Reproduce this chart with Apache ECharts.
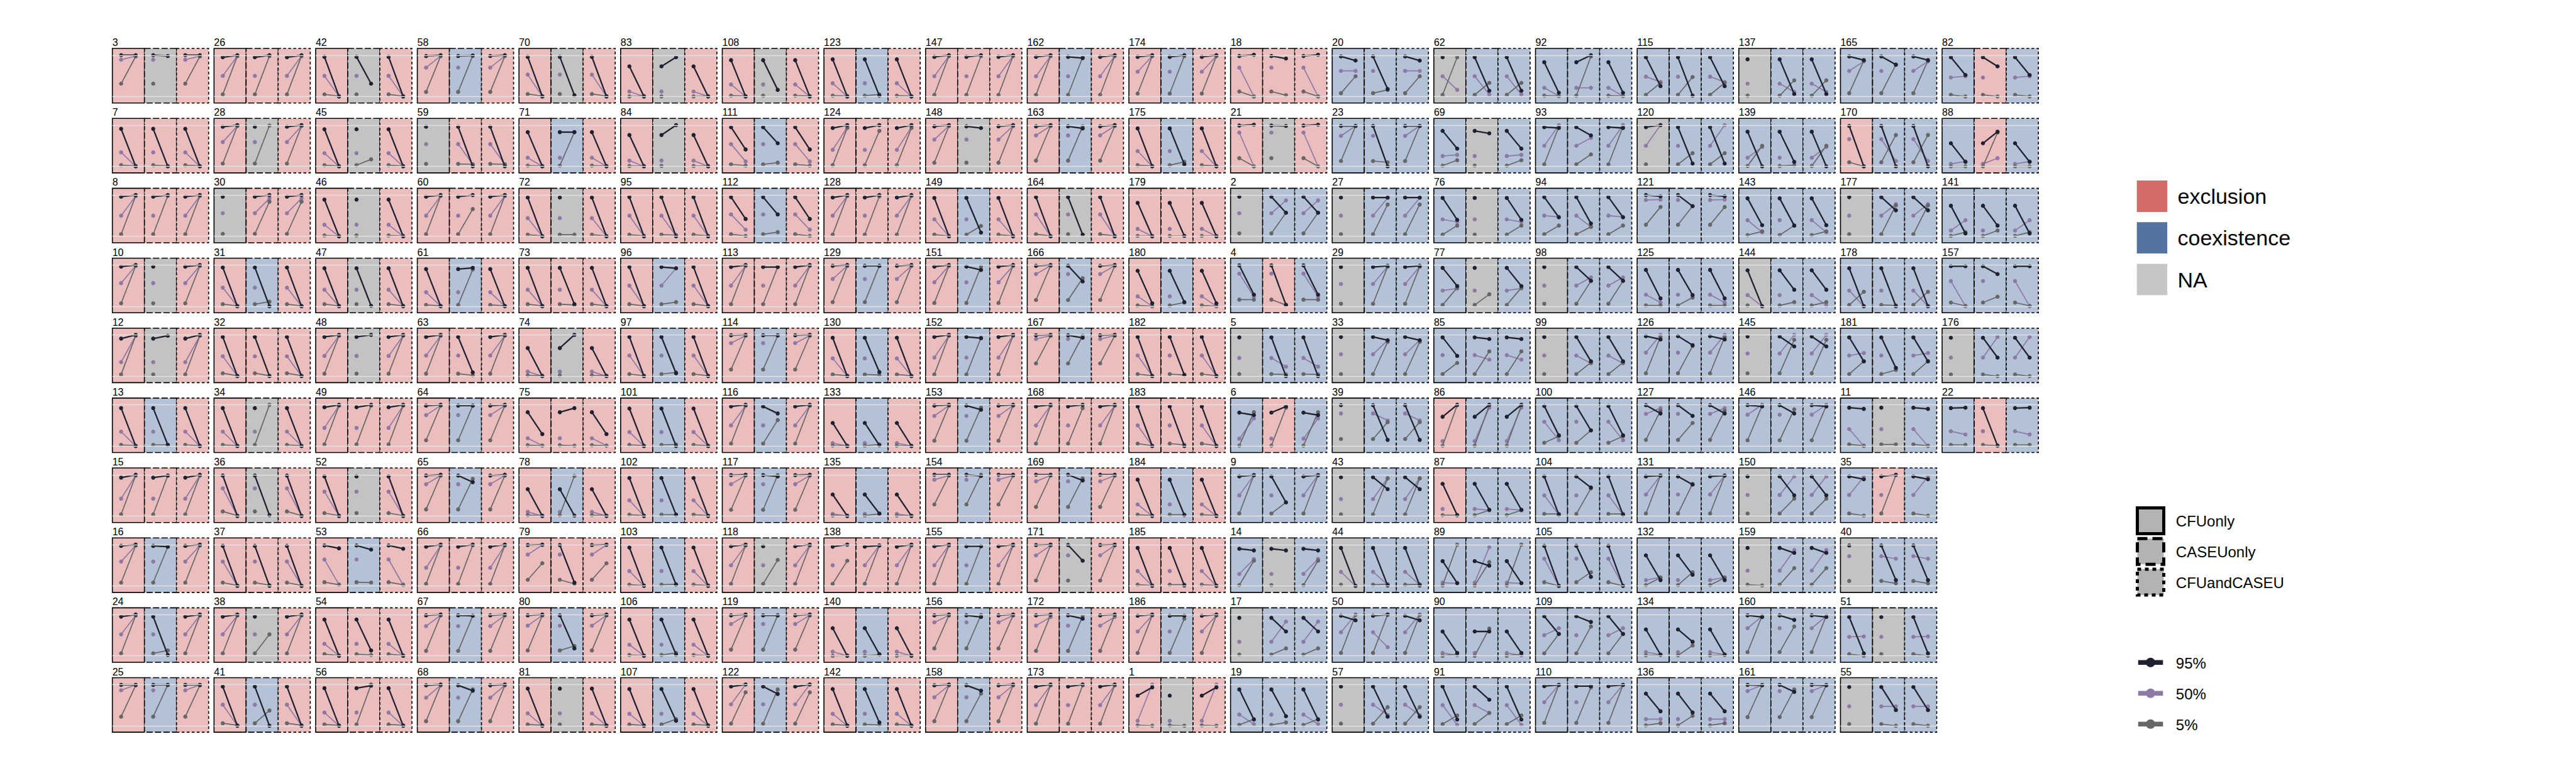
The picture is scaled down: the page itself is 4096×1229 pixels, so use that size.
<!DOCTYPE html>
<html>
<head>
<meta charset="utf-8">
<script src="https://cdn.jsdelivr.net/npm/echarts@6/dist/echarts.min.js"></script>
<style>html,body{margin:0;padding:0;background:#fff}#c{width:4096px;height:1229px}</style>
</head>
<body>
<div id="c"></div>
<script>
// ---------------- DATA ----------------
// group ids, in column-major order (10 per column)
const groupIds = [
  3,7,8,10,12,13,15,16,24,25,
  26,28,30,31,32,34,36,37,38,41,
  42,45,46,47,48,49,52,53,54,56,
  58,59,60,61,63,64,65,66,67,68,
  70,71,72,73,74,75,78,79,80,81,
  83,84,95,96,97,101,102,103,106,107,
  108,111,112,113,114,116,117,118,119,122,
  123,124,128,129,130,133,135,138,140,142,
  147,148,149,151,152,153,154,155,156,158,
  162,163,164,166,167,168,169,171,172,173,
  174,175,179,180,182,183,184,185,186,1,
  18,21,2,4,5,6,9,14,17,19,
  20,23,27,29,33,39,43,44,50,57,
  62,69,76,77,85,86,87,89,90,91,
  92,93,94,98,99,100,104,105,109,110,
  115,120,121,125,126,127,131,132,134,136,
  137,139,143,144,145,146,150,159,160,161,
  165,170,177,178,181,11,35,40,51,55,
  82,88,141,157,176,22
];

// percentile order inside every triple: [95%, 50%, 5%]
const percentiles = ['95%', '50%', '5%'];
const panelTypes = ['CFUonly', 'CASEUonly', 'CFUandCASEU'];
const outcomeLabels = ['exclusion', 'coexistence', 'NA'];

// starting values (x = 1), shared by the three panels of a group
const startVals = [
  [1.0,0.89,0.31],[0.91,0.34,0.03],[0.96,0.5,0.05],[0.96,0.56,0.07],[0.91,0.34,0.04],[0.92,0.35,0.03],[0.93,0.42,0.04],[0.97,0.59,0.08],[0.95,0.52,0.06],[0.99,0.86,0.22],
  [0.95,0.5,0.05],[0.96,0.59,0.07],[0.96,0.56,0.06],[0.94,0.45,0.05],[0.95,0.48,0.07],[0.92,0.35,0.03],[0.98,0.67,0.11],[0.97,0.59,0.08],[0.95,0.52,0.06],[0.95,0.51,0.06],
  [0.96,0.5,0.05],[0.9,0.32,0.03],[0.89,0.28,0.02],[0.92,0.4,0.05],[0.95,0.49,0.06],[0.94,0.44,0.04],[0.96,0.59,0.07],[0.98,0.64,0.09],[0.88,0.29,0.04],[0.91,0.32,0.03],
  [0.98,0.7,0.11],[0.96,0.54,0.06],[0.96,0.5,0.05],[0.9,0.34,0.03],[0.95,0.5,0.06],[0.98,0.75,0.14],[0.98,0.77,0.16],[0.95,0.44,0.05],[0.98,0.72,0.12],[0.98,0.68,0.11],
  [0.96,0.53,0.06],[0.83,0.21,0.02],[0.94,0.44,0.04],[0.93,0.4,0.05],[0.68,0.11,0.02],[0.82,0.19,0.02],[0.65,0.1,0.02],[0.99,0.76,0.15],[0.98,0.73,0.13],[0.9,0.3,0.03],
  [0.73,0.12,0.0],[0.76,0.14,0.01],[0.95,0.5,0.04],[0.95,0.5,0.05],[0.95,0.5,0.05],[0.91,0.34,0.03],[0.92,0.38,0.03],[0.93,0.36,0.03],[0.88,0.27,0.02],[0.89,0.29,0.03],
  [0.88,0.29,0.02],[0.95,0.54,0.05],[0.95,0.53,0.05],[0.95,0.5,0.05],[0.99,0.8,0.16],[0.96,0.5,0.06],[0.99,0.77,0.15],[0.96,0.5,0.05],[0.98,0.77,0.15],[0.95,0.52,0.05],
  [0.9,0.32,0.02],[0.93,0.4,0.03],[0.94,0.5,0.04],[0.98,0.66,0.1],[0.93,0.43,0.04],[0.56,0.07,0.01],[0.52,0.05,0.01],[0.95,0.5,0.05],[0.67,0.1,0.0],[0.89,0.29,0.03],
  [0.96,0.49,0.04],[0.97,0.65,0.09],[0.93,0.41,0.04],[0.96,0.58,0.08],[0.95,0.45,0.04],[0.98,0.73,0.13],[1.0,0.88,0.28],[0.96,0.5,0.05],[0.98,0.81,0.18],[0.98,0.69,0.11],
  [0.96,0.49,0.04],[0.97,0.75,0.14],[0.95,0.53,0.05],[0.98,0.78,0.15],[0.99,0.9,0.31],[0.96,0.5,0.06],[1.0,0.84,0.22],[0.99,0.74,0.13],[0.98,0.73,0.12],[0.95,0.5,0.05],
  [0.96,0.6,0.07],[0.92,0.37,0.03],[0.81,0.18,0.01],[0.86,0.24,0.02],[0.95,0.5,0.05],[0.96,0.5,0.06],[0.88,0.28,0.03],[0.92,0.36,0.03],[0.97,0.59,0.07],[0.73,0.12,0.01],
  [0.98,0.7,0.12],[0.99,0.82,0.2],[0.96,0.56,0.07],[0.99,0.79,0.16],[0.94,0.44,0.05],[0.81,0.18,0.01],[0.96,0.5,0.06],[0.9,0.29,0.02],[0.92,0.34,0.03],[0.88,0.27,0.02],
  [0.97,0.62,0.08],[0.98,0.74,0.13],[0.94,0.5,0.05],[0.95,0.54,0.06],[0.95,0.53,0.05],[0.99,0.79,0.17],[0.94,0.41,0.04],[0.92,0.34,0.03],[0.97,0.57,0.07],[0.95,0.51,0.05],
  [0.95,0.49,0.04],[0.86,0.25,0.02],[0.93,0.41,0.04],[0.93,0.38,0.03],[0.94,0.51,0.05],[0.71,0.12,0.01],[0.78,0.17,0.02],[0.6,0.08,0.01],[0.59,0.07,0.0],[0.95,0.5,0.04],
  [0.83,0.21,0.02],[0.95,0.5,0.05],[0.95,0.5,0.05],[0.95,0.5,0.06],[0.95,0.5,0.05],[0.97,0.59,0.08],[0.96,0.5,0.05],[0.97,0.66,0.09],[0.96,0.5,0.06],[0.96,0.57,0.07],
  [0.95,0.48,0.04],[0.95,0.5,0.05],[1.0,0.88,0.28],[0.88,0.28,0.02],[0.97,0.57,0.07],[0.99,0.78,0.15],[0.96,0.52,0.06],[0.74,0.14,0.02],[0.64,0.09,0.01],[0.78,0.16,0.01],
  [0.9,0.31,0.02],[0.84,0.21,0.01],[0.92,0.39,0.03],[0.87,0.27,0.02],[0.96,0.55,0.07],[0.99,0.76,0.14],[0.96,0.51,0.06],[0.92,0.37,0.03],[0.98,0.67,0.09],[0.99,0.84,0.21],
  [0.97,0.62,0.08],[0.98,0.66,0.1],[0.95,0.5,0.05],[0.92,0.38,0.03],[0.94,0.5,0.05],[0.93,0.41,0.04],[0.96,0.51,0.06],[0.98,0.72,0.12],[0.94,0.46,0.04],[0.94,0.47,0.04],
  [0.95,0.46,0.04],[0.56,0.06,0.0],[0.74,0.14,0.01],[0.97,0.61,0.09],[0.93,0.45,0.04],[0.92,0.36,0.03]
];

// outcome per panel: E = exclusion, C = coexistence, N = NA  (order CFUonly, CASEUonly, CFUandCASEU)
const outcomes = [
  'ENE','EEE','EEE','ENE','ENE','ECE','EEE','ECE','ECE','ECE',
  'EEE','ENE','NEE','ECE','EEE','ENE','ENE','EEE','ENE','ECE',
  'ENE','ENE','ENE','ENE','ENE','EEE','ENE','ECE','EEE','EEE',
  'ECE','NEE','EEE','ECE','EEE','ECE','ECE','EEE','ECE','ECE',
  'ENE','ECE','ENE','EEE','ENE','EEE','ECE','EEE','ECE','ENE',
  'ENE','ENE','EEE','ECE','ECE','ECE','ECE','ECE','ECE','ECE',
  'ENE','ECE','ECE','EEE','ECE','ECE','ECE','ENE','ECE','ECE',
  'ECE','EEE','EEE','ECE','ECE','ECE','ECE','EEE','ECE','ECE',
  'EEE','ENE','ECE','ECE','ECE','ECE','ECE','ECE','ECE','ECE',
  'ECE','ECE','ENE','ECE','ECE','EEE','ECE','ENE','ECE','EEE',
  'ECE','ECE','EEE','ECE','EEE','EEE','ECE','EEE','ECE','ENE',
  'EEE','ENE','NCC','CEC','NCC','CEC','CCC','CNC','NCC','CCC',
  'CCC','CCC','NCC','NCC','NCC','NCC','NCC','NCC','CCC','NCC',
  'NCC','CNC','CNC','CNC','CCC','ECC','ECC','CCC','CCC','CCC',
  'CCC','CCC','CCC','NCC','NCC','CCC','CCC','CCC','CCC','CCC',
  'CCC','NCC','CCC','CCC','CCC','CCC','CCC','CCC','CCC','CCC',
  'NCC','CCC','CCC','NCC','NCC','CCC','NCC','NCC','CCC','CCC',
  'CCC','ECC','NCC','CCC','CCC','CNC','CEC','NCC','CNC','NCC',
  'CEC','CEC','CCC','CCC','NCC','CEC'
];

// end values (x = 2) for CFUonly panels
const endCFU = [
  [1,0.98,0.97],[0,0,0.01],[1,0.98,0.98],[1,0.98,0.98],[1,0.98,0.98],[0,0,0.01],[1,0.98,0.98],[1,0.98,0.98],[1,0.98,0.98],[0.99,0.99,0.98],
  [1,0.98,0.98],[1,0.98,0.98],[null,null,null],[0,0,0.01],[0,0,0.01],[0,0,0.01],[0,0,0.01],[0,0,0.01],[1,0.98,0.98],[0,0,0.01],
  [0,0,0.01],[0,0,0.01],[0,0,0.01],[0,0,0.01],[1,0.98,0.98],[1,0.98,0.98],[0,0,0.01],[0.91,0.03,0.03],[0,0,0.01],[0,0,0.01],
  [1,0.98,0.98],[null,null,null],[1,0.98,0.98],[0,0,0.01],[1,0.98,0.98],[1,0.98,0.98],[1,0.98,0.98],[1,0.98,0.98],[1,0.98,0.98],[1,0.98,0.98],
  [0,0,0.01],[0,0,0.01],[0,0,0.01],[0,0,0.01],[0,0,0.01],[0.29,0.01,0.01],[0,0,0.01],[1,0.99,0.55],[1,0.98,0.98],[0,0,0.01],
  [0,0,0.01],[0,0,0.01],[0,0,0.01],[0,0,0.01],[0,0,0.01],[0,0,0.01],[0,0,0.01],[0,0,0.01],[0,0,0.01],[0,0,0.01],
  [0,0,0.01],[0.41,0.12,0.02],[0.42,0.16,0.01],[1,0.98,0.98],[1,0.98,0.98],[1,0.98,0.98],[1,0.98,0.98],[1,0.98,0.98],[1,0.98,0.98],[1,1,0.81],
  [0,0,0.01],[1,0.95,0.93],[1,0.98,0.98],[1,0.98,0.98],[0,0,0.01],[0,0,0.01],[0,0,0.01],[1,null,0.61],[0,0,0.01],[0,0,0.01],
  [1,0.98,0.98],[1,0.98,0.98],[0,0,0.01],[1,0.98,0.98],[1,0.98,0.98],[1,0.98,0.98],[1,0.98,0.98],[1,0.98,0.98],[1,0.98,0.98],[1,0.98,0.98],
  [1,0.98,0.98],[1,0.98,0.98],[0,0,0.01],[1,0.98,0.98],[1,0.98,0.98],[1,0.98,0.98],[1,0.98,0.98],[1,0.98,0.98],[1,0.94,0.99],[1,0.98,0.98],
  [1,0.98,0.98],[0,0,0.01],[0,0,0.01],[0.07,0,0],[0,0,0.01],[0,0,0.01],[0,0,0.01],[0,0,0.01],[1,0.98,0.98],[0.93,1,0],
  [1.01,0,0],[1.01,0,0],[null,null,null],[0.28,0.23,0.16],[null,null,null],[0.75,0.67,0.82],[0.99,0.99,0.99],[0.86,0.65,0.61],[null,null,null],[0.15,0.04,0.16],
  [0.87,0.62,0.49],[0.98,0.98,0.98],[null,null,null],[null,null,null],[null,null,null],[null,null,null],[null,null,null],[0,0,null],[0.86,1,0.99],[null,null,null],
  [null,0.16,0.95],[0.43,0.28,0.15],[0.4,0.35,0.26],[0.49,0.43,0.45],[0.49,null,0.32],[1,null,0.99],[0.02,null,0.02],[0.07,0.06,1],[0.07,0.01,0.04],[0.15,0.02,0.25],
  [0.09,0.01,0.01],[0.93,1,0.96],[0.46,0.47,0.26],[null,null,null],[null,null,null],[0.26,0.14,0.24],[0.03,0.03,0.05],[0,0,0],[0.53,0.67,0.53],[0.99,0.99,0.99],
  [0.25,0.35,0.33],[1,1,null],[0.97,0.89,0.71],[0.19,0.09,0.02],[0.89,1,0.95],[0.79,0.92,0.86],[0.98,0.98,0.98],[0.14,0.21,0.2],[0.03,0.03,0.02],[0.35,0.16,0.06],
  [null,null,null],[0,0.47,0.5],[0.27,0.1,0.12],[0,0,null],[null,null,null],[0.96,1,0.98],[null,null,null],[null,null,0.01],[0.94,0.96,0.97],[0.98,0.99,0.99],
  [0.88,0.85,0.87],[0,null,0],[null,null,null],[0,0,0.35],[0.36,0.56,0.36],[0.9,0,0.01],[0.89,0.95,0.01],[null,null,null],[0.06,0.47,0],[null,null,null],
  [0.52,0.49,0],[0.11,0.12,0],[0.07,0.39,0.1],[0.97,0,0.01],[null,null,null],[0.93,0.28,0.03]
];

// end values (x = 2) for CASEUonly panels
const endCASEU = [
  [0.98,null,null],[0,null,0.01],[1,null,0.98],[null,null,null],[0.98,null,null],[0.03,null,0.03],[0.98,null,0.98],[0.95,null,0.95],[0.02,null,0.13],[0.99,null,0.99],
  [1,null,0.98],[null,null,0.99],[1,0.92,0.84],[0,null,0.11],[0,null,0.01],[null,null,1],[0.02,null,null],[0,null,0.02],[null,null,0.52],[0,null,0.37],
  [0.31,null,null],[null,null,0.17],[null,null,null],[0.01,null,null],[1,null,null],[1,null,0.98],[null,null,null],[0.88,null,0.08],[0.13,null,0.02],[0.97,null,1],
  [0.99,null,0.99],[0,0.05,0.05],[1,null,0.66],[0.93,null,0.89],[0.09,null,0.02],[0.98,null,0.98],[0.82,null,0.9],[1,null,0.99],[0.97,null,0.97],[0.85,null,0.88],
  [0.03,null,null],[0.83,null,0.83],[null,null,0.04],[0.05,null,0.03],[1,null,null],[0.92,null,0.01],[0.01,null,0.97],[0.08,null,0.05],[0.18,null,0.24],[null,null,null],
  [0.95,null,null],[1,null,null],[0,0.01,0.03],[0.92,0.92,0.1],[0.07,null,0.09],[0,null,0.04],[0.03,null,0.03],[0.03,null,0.04],[0.03,null,0.07],[0.12,null,0.16],
  [0.16,null,null],[0.56,null,0.09],[0.53,null,0.1],[0.95,null,0.95],[0.99,null,0.98],[0.79,null,0.63],[0.96,null,0.99],[null,null,0.63],[0.98,null,0.98],[0.77,null,0.88],
  [0.02,null,0.05],[1,null,0.86],[1,null,0.97],[0.98,null,0.98],[0.1,null,0.03],[0.02,null,0.04],[0.06,null,0.05],[0.98,0.98,0.98],[0.04,null,0.03],[0.08,null,0.02],
  [1,null,0.98],[0.93,null,null],[0.09,null,0.25],[0.88,null,0.96],[0.92,null,0.93],[0.88,null,0.93],[0.97,null,1],[0.96,null,0.96],[0.94,null,0.99],[0.85,null,0.78],
  [0.93,null,0.95],[0.92,null,0.97],[0.04,null,null],[0.6,null,0.68],[0.93,null,0.98],[1,null,0.92],[0.86,null,0.91],[0.61,null,null],[0.9,null,0.96],[1,null,0.98],
  [1,null,0.98],[0.05,null,0.11],[0.01,null,0.01],[0.1,null,0.09],[0.03,null,0.03],[0,null,0.03],[0.02,null,0.03],[0.01,null,0.03],[0.97,null,0.9],[null,null,0],
  [0.92,null,0.03],[0.98,null,null],[0.57,0.87,0.57],[0.03,null,0.03],[0,0.23,0.04],[0.96,null,0.93],[0.33,null,0.33],[0.86,null,null],[0.59,0.83,0.18],[0.23,null,0.08],
  [0.18,null,0.16],[0,null,0.1],[0.94,0.93,0.77],[0.98,0.96,0.96],[0.87,0.87,0.83],[0.15,0.62,0.58],[0.65,0.92,0.91],[0.01,0.03,0.04],[1,0.21,1],[0.22,0.26,0.45],
  [0.14,0.05,0.33],[0.8,null,null],[null,null,null],[null,null,0.29],[0.9,0.4,0.6],[1,0.93,0.99],[0.15,0.14,0.14],[0.49,0.94,0.58],[0.59,null,0.66],[0.63,0.31,0.31],
  [1,0.21,0.97],[0.75,0.69,0.29],[0.31,0.23,0.23],[0.62,0.7,0.61],[0.36,0.31,0.33],[0.38,null,0.38],[0.69,null,0.67],[0.22,null,0.33],[0.82,null,0.71],[0.96,null,0.93],
  [0.02,null,0.47],[0.07,null,0.32],[0.73,null,0.73],[0.27,null,0.21],[0.75,null,0.73],[0.73,null,0.56],[0.76,null,0.78],[0.27,null,0.33],[0.34,null,0.25],[0.32,null,0.24],
  [0.06,0.11,0.39],[0.11,null,0.03],[0.26,null,0.26],[0.4,null,0.1],[0.72,1,0.88],[0.79,null,0.89],[0.5,0.96,0.42],[0.8,0.87,0.43],[0.87,null,0.71],[0.82,null,0.88],
  [0.77,null,0.77],[0,0.13,0.76],[0.63,0.78,0.75],[0,null,0.02],[0.2,null,0.15],[null,null,0.04],[1,null,0.99],[0.14,0.66,0.06],[null,null,null],[0.38,0.47,0],
  [0.73,null,0],[0.84,0.2,0.82],[0.26,null,0.14],[0.78,null,0.23],[0.45,0.95,0],[0.01,null,0.01]
];

// end values (x = 2) for CFUandCASEU panels
const endBoth = [
  [1,0.98,0.97],[0,0,0.01],[1,0.98,0.98],[1,0.98,0.98],[1,0.98,0.98],[0,0,0.01],[1,0.98,0.98],[1,0.98,0.98],[1,0.98,0.98],[0.99,0.99,0.98],
  [1,0.98,0.98],[1,0.98,0.98],[1,0.92,0.84],[0,0,0.01],[0,0,0.01],[0,0,0.01],[0,0,0.01],[0,0,0.01],[1,0.98,0.98],[0,0,0.01],
  [0,0,0.01],[0,0,0.01],[0,0,0.01],[0,0,0.01],[1,0.98,0.98],[1,0.98,0.98],[0,0,0.01],[0.9,0.02,0.03],[0,0,0.01],[0,0,0.01],
  [1,0.98,0.98],[0,0.05,0.05],[1,0.98,0.98],[0,0,0.01],[1,0.98,0.98],[1,0.98,0.98],[1,0.98,0.98],[1,0.98,0.98],[1,0.98,0.98],[1,0.98,0.98],
  [0,0,0.01],[0,0,0.01],[0,0,0.01],[0,0,0.01],[0,0,0.01],[0.29,0.01,0.01],[0,0,0.01],[1,0.99,0.55],[1,0.98,0.98],[0,0,0.01],
  [0,0,0.01],[0,0,0.01],[0,0,0.01],[0,0,0.01],[0,0,0.01],[0,0,0.01],[0,0,0.01],[0,0,0.01],[0,0,0.01],[0,0,0.01],
  [0,0,0.01],[0.41,0.12,0.02],[0.42,0.16,0.01],[1,0.98,0.98],[1,0.98,0.98],[1,0.98,0.98],[1,0.98,0.98],[1,0.98,0.98],[1,0.98,0.98],[1,1,0.81],
  [0,0,0.01],[1,0.95,0.93],[1,0.98,0.98],[1,0.98,0.98],[0,0,0.01],[0,0,0.01],[0,0,0.01],[1,0.98,0.98],[0,0,0.01],[0,0,0.01],
  [1,0.98,0.98],[1,0.98,0.98],[0,0,0.01],[1,0.98,0.98],[1,0.98,0.98],[1,0.98,0.98],[1,0.98,0.98],[1,0.98,0.98],[1,0.98,0.98],[1,0.98,0.98],
  [1,0.98,0.98],[1,0.98,0.98],[0,0,0.01],[1,0.98,0.98],[1,0.98,0.98],[1,0.98,0.98],[1,0.98,0.98],[1,0.98,0.98],[1,0.94,0.99],[1,0.98,0.98],
  [1,0.98,0.98],[0,0,0.01],[0,0,0.01],[0.07,0,0],[0,0,0.01],[0,0,0.01],[0,0,0.01],[0,0,0.01],[1,0.98,0.98],[0.93,1,0],
  [1.01,0,0],[1.01,0,0],[0.57,0.87,0.57],[0.28,0.23,0.16],[0,0.23,0.04],[0.75,0.67,0.82],[0.99,0.99,0.99],[0.86,0.65,0.61],[0.59,0.83,0.18],[0.15,0.04,0.16],
  [0.87,0.62,0.49],[0.98,0.98,0.98],[0.94,0.93,0.77],[0.98,0.96,0.96],[0.87,0.87,0.83],[0.15,0.62,0.58],[0.65,0.92,0.91],[0.01,0.03,0.04],[0.86,1,0.99],[0.22,0.26,0.45],
  [0.14,0.05,0.33],[0.43,0.28,0.15],[0.4,0.35,0.26],[0.49,0.43,0.45],[0.9,0.4,0.6],[1,0.93,0.99],[0.15,0.14,0.14],[0.07,0.06,1],[0.07,0.01,0.04],[0.15,0.02,0.25],
  [0.09,0.01,0.01],[0.93,1,0.96],[0.46,0.47,0.26],[0.62,0.7,0.61],[0.36,0.31,0.33],[0.26,0.14,0.24],[0.03,0.03,0.05],[0,0,0],[0.53,0.67,0.53],[0.99,0.99,0.99],
  [0.25,0.35,0.33],[0.07,1,0.32],[0.97,0.89,0.71],[0.19,0.09,0.02],[0.89,1,0.95],[0.79,0.92,0.86],[0.98,0.98,0.98],[0.14,0.21,0.2],[0.03,0.03,0.02],[0.35,0.16,0.06],
  [0.06,0.11,0.39],[0,0.47,0.5],[0.27,0.1,0.12],[0.4,0.02,0.1],[0.72,1,0.88],[0.96,1,0.98],[0.5,0.96,0.42],[0.8,0.87,0.43],[0.94,0.96,0.97],[0.98,0.99,0.99],
  [0.88,0.85,0.87],[0,0.13,0.76],[0.63,0.78,0.75],[0,0,0.35],[0.36,0.56,0.36],[0.9,0,0.01],[0.89,0.95,0.01],[0.14,0.66,0.06],[0.06,0.47,0],[0.38,0.47,0],
  [0.52,0.49,0],[0.11,0.12,0],[0.07,0.39,0.1],[0.97,0,0.01],[0.45,0.95,0],[0.93,0.28,0.03]
];

// ---------------- STYLE / LAYOUT ----------------
const S = 0.682;
const LAYOUT = { x0: 262 * S, colPitch: 237 * S, subW: 224.4 / 3 * S, y0: 113 * S, rowPitch: 163 * S, panelH: 127 * S, perCol: 10 };
const FONT = '"Liberation Sans", Arial, Helvetica, sans-serif';
const bgColors = { E: '#EBBEBD', C: '#B3C2D6', N: '#C3C3C3' };
const keyColors = ['#D46B67', '#54739E', '#C6C6C6'];
const pctColors = ['#1E2230', '#8E78A6', '#666666'];
const pctWidths = [2.3, 1.7, 1.7];
const borderDash = ['solid', [10, 3.5], [4.5, 3.5]];
const endsByPanel = [endCFU, endCASEU, endBoth];

const grids = [], xAxes = [], yAxes = [], series = [], graphics = [];

groupIds.forEach((gid, g) => {
  const col = Math.floor(g / LAYOUT.perCol), row = g % LAYOUT.perCol;
  const gx = LAYOUT.x0 + col * LAYOUT.colPitch;
  const gy = LAYOUT.y0 + row * LAYOUT.rowPitch;
  graphics.push({
    type: 'text', x: gx, y: gy - 9.5, silent: true,
    style: { text: String(gid), font: '16px ' + FONT, fill: '#000', verticalAlign: 'middle', align: 'left' }
  });
  for (let p = 0; p < 3; p++) {
    const k = grids.length;
    const oc = outcomes[g][p];
    grids.push({
      left: gx + p * LAYOUT.subW, top: gy, width: LAYOUT.subW, height: LAYOUT.panelH,
      show: true, backgroundColor: bgColors[oc], borderColor: '#000', borderWidth: 1.6,
      borderType: borderDash[p], containLabel: false
    });
    xAxes.push({ type: 'value', gridIndex: k, min: 0.4, max: 2.6, show: false });
    yAxes.push({ type: 'value', gridIndex: k, min: -0.157, max: 1.163, show: false });
    // draw 50% first, then 5%, then 95% on top
    [1, 2, 0].forEach((q, j) => {
      const endV = endsByPanel[p][g][q];
      const s = {
        type: 'line', xAxisIndex: k, yAxisIndex: k,
        name: percentiles[q],
        data: [[1, startVals[g][q]], [2, endV === null ? '-' : endV]],
        symbol: 'circle', symbolSize: 6.5, showSymbol: true, connectNulls: false,
        lineStyle: { color: pctColors[q], width: pctWidths[q] },
        itemStyle: { color: pctColors[q] },
        silent: true, animation: false, z: 2 + j
      };
      if (j === 0) {
        s.markLine = {
          silent: true, symbol: 'none', animation: false,
          label: { show: false },
          lineStyle: { color: '#E1E1E1', width: 1.4, type: 'solid' },
          emphasis: { disabled: true },
          data: [{ yAxis: 0 }, { yAxis: 1 }]
        };
      }
      series.push(s);
    });
  }
});

// ----- legends -----
outcomeLabels.forEach((lab, i) => {
  const y = 287.1 + i * 66.2;
  graphics.push({ type: 'rect', silent: true, shape: { x: 3397.7, y: y, width: 48.4, height: 49.8 }, style: { fill: keyColors[i] } });
  graphics.push({ type: 'text', silent: true, x: 3462.5, y: y + 25, style: { text: lab, font: '34px ' + FONT, fill: '#000', verticalAlign: 'middle' } });
});
panelTypes.forEach((lab, i) => {
  const y = 807.5 + i * 48.8;
  graphics.push({ type: 'rect', silent: true, shape: { x: 3398.5, y: y, width: 42, height: 41 },
    style: { fill: '#B3B3B3', stroke: '#000', lineWidth: 5, lineDash: i === 0 ? null : (i === 1 ? [16, 8] : [6, 6]) } });
  graphics.push({ type: 'text', silent: true, x: 3459.8, y: y + 21, style: { text: lab, font: '24px ' + FONT, fill: '#000', verticalAlign: 'middle' } });
});
percentiles.forEach((lab, i) => {
  const y = 1053.2 + i * 49;
  graphics.push({ type: 'line', silent: true, shape: { x1: 3399.8, y1: y, x2: 3439.3, y2: y }, style: { stroke: pctColors[i], lineWidth: 7.5 } });
  graphics.push({ type: 'circle', silent: true, shape: { cx: 3419.5, cy: y, r: 7.5 }, style: { fill: pctColors[i] } });
  graphics.push({ type: 'text', silent: true, x: 3459.8, y: y + 1, style: { text: lab, font: '24px ' + FONT, fill: '#000', verticalAlign: 'middle' } });
});

const chart = echarts.init(document.getElementById('c'), null, { renderer: 'svg', width: 4096, height: 1229 });
chart.setOption({
  animation: false,
  backgroundColor: '#ffffff',
  textStyle: { fontFamily: FONT },
  grid: grids,
  xAxis: xAxes,
  yAxis: yAxes,
  series: series,
  graphic: { elements: graphics }
});
</script>
</body>
</html>
